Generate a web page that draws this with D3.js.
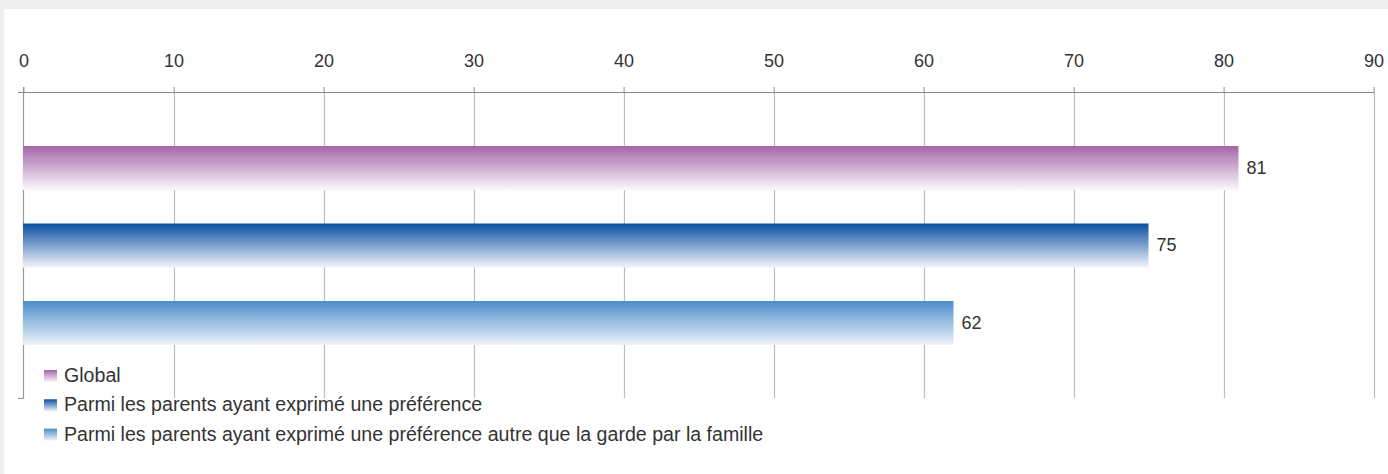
<!DOCTYPE html>
<html><head><meta charset="utf-8">
<script src="https://cdn.jsdelivr.net/npm/d3@7"></script>
<style>
html,body{margin:0;padding:0;background:#efefef;}
svg{display:block;}
text{font-family:"Liberation Sans",Arial,sans-serif;fill:#333;}
</style></head>
<body>
<script>
const categories = ["Global", "Parmi les parents ayant exprimé une préférence", "Parmi les parents ayant exprimé une préférence autre que la garde par la famille"];
const values = [81, 75, 62];
const tickValues = [0, 10, 20, 30, 40, 50, 60, 70, 80, 90];
const colorsTop = ["#a466ab", "#0a4fa0", "#4b8dca"];
const colorsBottom = ["#fbf7fb", "#f3f4fb", "#eef3fa"];

const W = 1388, H = 474;
const svg = d3.select("body").append("svg").attr("width", W).attr("height", H);
svg.append("rect").attr("x", 4).attr("y", 9).attr("width", W - 4).attr("height", H - 9).attr("fill", "#fff");

const defs = svg.append("defs");
categories.forEach((c, i) => {
  const g = defs.append("linearGradient").attr("id", "grad" + i).attr("x1", 0).attr("y1", 0).attr("x2", 0).attr("y2", 1);
  g.append("stop").attr("offset", "0%").attr("stop-color", colorsTop[i]);
  g.append("stop").attr("offset", "100%").attr("stop-color", colorsBottom[i]);
});

const x = d3.scaleLinear().domain([0, 90]).range([23.5, 1373.5]);
const plotTop = 92, plotBottom = 398;
const y = d3.scaleBand().domain(categories).range([129.26, 361.76]).paddingInner(0.432).paddingOuter(0.216);

// gridlines
svg.append("g").selectAll("line").data(tickValues.slice(1)).join("line")
  .attr("x1", d => Math.round(x(d)) + 0.5).attr("x2", d => Math.round(x(d)) + 0.5)
  .attr("y1", 87).attr("y2", plotBottom)
  .attr("stroke", "#bdbdbd").attr("stroke-width", 1.2);

// top axis
const axis = svg.append("g").attr("transform", `translate(0,${plotTop})`)
  .call(d3.axisTop(x).tickValues(tickValues).tickSize(5).tickPadding(20));
axis.select(".domain").remove();
axis.attr("font-family", null).attr("font-size", null);
axis.selectAll(".tick line").attr("stroke", "#bdbdbd").attr("stroke-width", 1.2);
axis.selectAll(".tick text").style("font-size", "18px").attr("fill", "#333");
svg.append("line").attr("x1", 18).attr("x2", 1374).attr("y1", plotTop + 0.5).attr("y2", plotTop + 0.5).attr("stroke", "#888");

// left axis
svg.append("line").attr("x1", 23.5).attr("x2", 23.5).attr("y1", 87).attr("y2", plotBottom + 0.5).attr("stroke", "#999").attr("stroke-width", 1.2);
svg.append("line").attr("x1", 18).attr("x2", 24).attr("y1", plotBottom + 0.5).attr("y2", plotBottom + 0.5).attr("stroke", "#999");

// bars
svg.append("g").selectAll("rect").data(values).join("rect")
  .attr("x", x(0) - 0.5).attr("y", (d, i) => y(categories[i]))
  .attr("width", d => x(d) - x(0) + 0.5).attr("height", y.bandwidth())
  .attr("fill", (d, i) => `url(#grad${i})`);

svg.append("g").selectAll("text").data(values).join("text")
  .attr("x", d => x(d) + 8).attr("y", (d, i) => y(categories[i]) + y.bandwidth() / 2 + 1)
  .attr("dominant-baseline", "middle").style("font-size", "18px").text(d => d);

// legend
const leg = svg.append("g").selectAll("g").data(categories).join("g")
  .attr("transform", (d, i) => `translate(44,${370 + i * 29.3})`);
leg.append("rect").attr("width", 13).attr("height", 12).attr("fill", (d, i) => `url(#grad${i})`);
leg.append("text").attr("x", 20).attr("y", 7).attr("dominant-baseline", "middle")
  .style("font-size", "19.6px").text(d => d);
</script>
</body></html>
